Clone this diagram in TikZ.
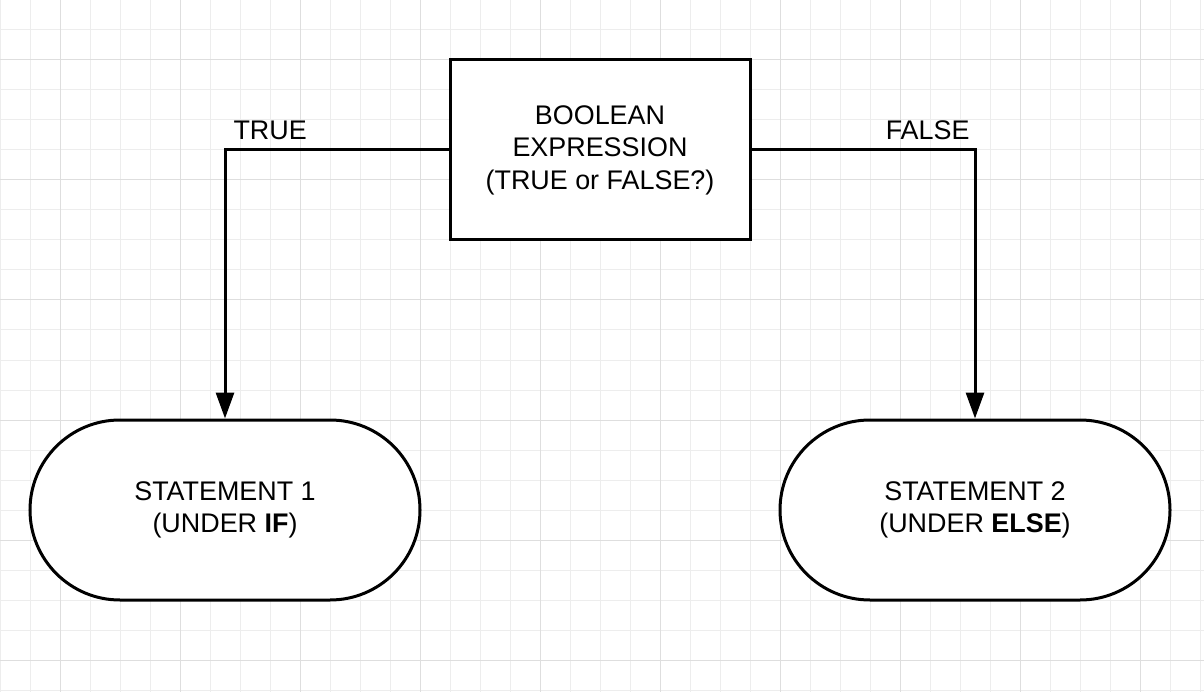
\documentclass[tikz,border=0pt]{standalone}
\usepackage{fontspec}
\setmainfont{Liberation Sans}
\usetikzlibrary{arrows.meta,positioning,shapes.misc}

\begin{document}
\begin{tikzpicture}[
 x=1pt,y=-1pt,font=\fontsize{26.9}{32.5}\selectfont,
 cond/.style={draw=black,line width=3pt,fill=white,align=center,
             minimum width=300pt,minimum height=180pt,inner sep=0pt},
 stmt/.style={draw=black,line width=3pt,fill=white,align=center,
             rounded rectangle,minimum width=390pt,minimum height=180pt,inner sep=0pt},
 flow/.style={-{Triangle[length=26pt,width=18pt]},line width=3pt},
 lbl/.style={inner sep=0pt,yshift=10pt}]
\useasboundingbox (0,0) rectangle (1204,692);
% grid
\foreach \g in {0,30,...,1200}
 \draw[line width=1pt,black!7] (\g,0) -- (\g,692);
\foreach \g in {0,30,...,690}
 \draw[line width=1pt,black!7] (0,\g) -- (1204,\g);
\foreach \g in {60,180,...,1200}
 \draw[line width=1pt,black!13] (\g,0) -- (\g,692);
\foreach \g in {60,180,...,690}
 \draw[line width=1pt,black!13] (0,\g) -- (1204,\g);
% nodes
\node[cond] (expr) at (600,150)
 {BOOLEAN\\EXPRESSION\\(TRUE or FALSE?)};
\node[stmt] (ifstmt) at (225,510)
 {STATEMENT 1\\(UNDER \textbf{IF})};
\node[stmt] (elsestmt) at (975,510)
 {STATEMENT 2\\(UNDER \textbf{ELSE})};
% connectors
\draw[flow] (expr.west) -| node[lbl,pos=0.5,anchor=base west,xshift=7pt] {TRUE} (ifstmt.north);
\draw[flow] (expr.east) -| node[lbl,pos=0.5,anchor=base east,xshift=-4pt] {FALSE} (elsestmt.north);
\end{tikzpicture}
\end{document}
